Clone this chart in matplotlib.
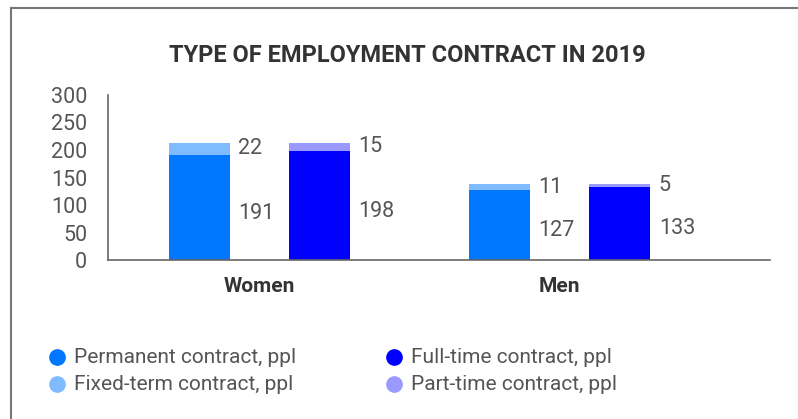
import matplotlib.pyplot as plt
from matplotlib.lines import Line2D

# data
groups = ['Women', 'Men']
permanent = [191, 127]
fixed_term = [22, 11]
full_time = [198, 133]
part_time = [15, 5]

c_perm = '#0077ff'
c_fixed = '#80bbff'
c_full = '#0000ff'
c_part = '#9999ff'
txt = '#555555'
dark = '#333333'

plt.rcParams['font.family'] = ['Roboto', 'DejaVu Sans']

fig = plt.figure(figsize=(7.98, 4.19), dpi=100)
W, H = 798, 419
ax = fig.add_axes([108 / W, 1 - 260 / H, (770 - 108) / W, (260 - 95) / H])

x = range(len(groups))
bw = 0.203
xl = [i - 0.2 for i in x]
xr = [i + 0.2 for i in x]
ax.bar(xl, permanent, bw, color=c_perm)
ax.bar(xl, fixed_term, bw, bottom=permanent, color=c_fixed)
ax.bar(xr, full_time, bw, color=c_full)
ax.bar(xr, part_time, bw, bottom=full_time, color=c_part)

# value labels right of each bar
def labels(xs, base, top):
    for xi, b, t in zip(xs, base, top):
        ax.annotate(str(b), (xi + bw / 2, b / 2), xytext=(6, -4), textcoords='offset points',
                    va='center', ha='left', fontsize=15.5, color=txt)
        ax.annotate(str(t), (xi + bw / 2, b + t / 2), xytext=(6, 0), textcoords='offset points',
                    va='center', ha='left', fontsize=15.5, color=txt)

labels(xl, permanent, fixed_term)
labels(xr, full_time, part_time)

ax.set_ylim(0, 300)
ax.set_xlim(-0.505, 1.70)
ax.set_yticks(range(0, 301, 50))
ax.set_xticks(list(x))
ax.set_xticklabels(groups, fontsize=15, fontweight='bold', color=dark)
for t in ax.get_yticklabels():
    t.set_fontsize(15.5)
    t.set_color(txt)
ax.tick_params(axis='x', length=0, pad=12)
ax.tick_params(axis='y', length=0, pad=15)
for s in ['top', 'right']:
    ax.spines[s].set_visible(False)
for s in ['left', 'bottom']:
    ax.spines[s].set_color('#666666')
    ax.spines[s].set_linewidth(1.2)

fig.text(407 / W, 1 - 55 / H, 'TYPE OF EMPLOYMENT CONTRACT IN 2019', ha='center', va='center',
         fontsize=17, fontweight='bold', color=dark)

# frame lines
fig.add_artist(Line2D([11 / W, 11 / W], [0, 1 - 8 / H], color='#777777', lw=1.5))
fig.add_artist(Line2D([11 / W, 1], [1 - 8 / H, 1 - 8 / H], color='#777777', lw=1.5))

# legend
items = [('Permanent contract, ppl', c_perm, 57, 357), ('Fixed-term contract, ppl', c_fixed, 57, 384),
         ('Full-time contract, ppl', c_full, 394, 357), ('Part-time contract, ppl', c_part, 394, 384)]
for lab, col, px, py in items:
    fig.add_artist(Line2D([px / W], [1 - py / H], marker='o', markersize=11, color=col, lw=0))
    fig.text((px + 17) / W, 1 - py / H, lab, ha='left', va='center', fontsize=15,
             color=txt)

fig.savefig('out.png', dpi=100)
